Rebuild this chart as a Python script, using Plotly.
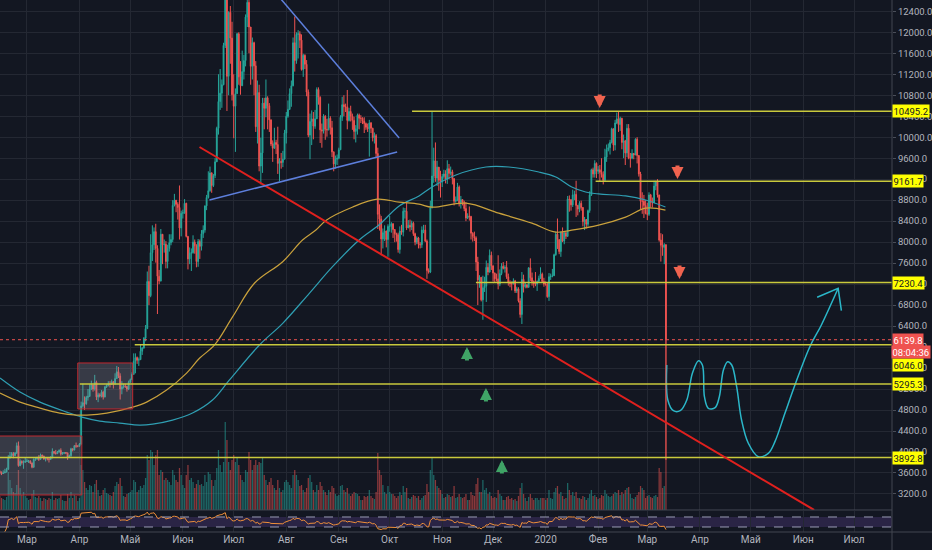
import numpy as np
import pandas as pd
import plotly.graph_objects as go

# ---------------- data (daily candles, 2019-02-13 .. 2020-03-12) ----------------
first_open = 3630
close = [
 # Feb 2019 (13-28)
 3610,3590,3600,3620,3670,3900,3920,3970,3930,3980,4120,3740,3820,3800,3810,3820,
 # Mar
 3830,3830,3790,3710,3860,3870,3880,3860,3940,3920,3870,3880,3870,3860,3890,4010,3980,3970,4000,4030,3960,3980,3990,3980,3900,3930,4060,4040,4120,4110,4110,
 # Apr
 4150,4880,4940,4920,5040,5060,5200,5280,5200,5330,5050,5090,5070,5140,5050,5240,5270,5300,5290,5340,5300,5400,5530,5450,5200,5240,5260,5250,5200,5330,
 # May
 5380,5480,5730,5800,5750,5760,5920,5980,6170,6350,7250,6980,7800,7950,8200,7880,7350,7260,8150,7950,7960,7630,7880,7990,8050,8700,8800,8720,8660,8270,8550,
 # Jun
 8560,8740,8110,7680,7790,7800,8000,7930,7630,8010,7920,8160,8230,8690,8850,8980,9320,9080,9270,9530,10170,10680,10840,11000,11750,12930,11160,12380,11890,10810,
 # Jul
 10590,10830,11970,11150,10980,11250,11460,12290,12570,12100,11350,11800,11360,10200,10850,9450,9700,10650,10550,10750,10600,10330,9870,9790,9900,9860,9500,9540,9520,9580,10080,
 # Aug
 10400,10530,10830,10980,11800,11460,11960,11970,11850,11290,11560,11390,10860,10040,10300,10350,10210,10350,10910,10760,10140,10120,10400,10150,10140,10360,10180,9720,9490,9580,9600,
 # Sep
 9760,10380,10620,10580,10580,10320,10490,10400,10320,10110,10160,10420,10360,10360,10310,10260,10190,10160,10270,10170,9990,10030,9690,8530,8440,8060,8180,8210,8050,8300,
 # Oct
 8300,8350,8240,8160,8140,7860,8210,8190,8590,8590,8270,8320,8290,8360,8160,8000,8080,7960,7950,8230,8230,8020,7460,7430,8660,9260,9550,9220,9430,9180,9150,
 # Nov
 9250,9300,9200,9400,9310,9340,9210,8780,8800,9050,8740,8810,8760,8640,8460,8500,8490,8170,8110,8080,7620,7280,7330,6900,7130,7160,7520,7430,7750,7550,
 # Dec
 7410,7300,7300,7200,7400,7540,7500,7520,7340,7230,7210,7200,7260,7070,7110,6880,6620,7290,7150,7190,7140,7510,7320,7250,7200,7200,7250,7310,7390,7250,7200,
 # Jan 2020
 7200,6960,7340,7350,7360,7760,8150,8050,7820,8190,8020,8180,8110,8820,8810,8710,8900,8910,8700,8630,8740,8660,8390,8430,8340,8600,8900,9380,9300,9500,9350,
 # Feb 2020
 9380,9330,9290,9180,9620,9760,9800,9900,10160,9850,10270,10350,10240,10360,9900,9930,9700,10170,9600,9600,9690,9660,9960,9650,9300,8780,8780,8700,8550,
 # Mar 2020 (1-12)
 8530,8900,8760,8750,9070,9150,8900,8040,7940,7900,7950,6139.8,
]
high = [
 3650,3630,3650,3680,3700,3940,4000,4000,4000,4000,4180,4200,3860,3840,3840,3900,
 3870,3850,3840,3800,3880,3900,3910,3940,3970,3950,3930,3900,3890,3900,3920,4070,4010,4040,4020,4050,4070,4000,4000,4000,3990,3950,4080,4070,4130,4180,4130,
 4170,4960,5300,5060,5070,5200,5290,5360,5280,5470,5360,5130,5120,5180,5170,5260,5290,5350,5350,5380,5350,5500,5640,5620,5500,5350,5300,5300,5260,5360,
 5400,5520,5880,5880,5820,5800,6050,6000,6190,6420,7440,7550,8150,8320,8280,8350,7940,7470,8250,8120,8050,8020,7950,8150,8150,8800,8920,8800,8760,9080,8600,
 8620,8820,8750,8110,7900,7880,8130,8050,7960,8060,8050,8230,8320,8700,8900,9350,9440,9330,9300,9600,10200,11200,11300,11100,11800,13880,13300,12400,12500,12200,
 11200,10930,11990,12000,11450,11650,11570,12340,12800,13200,12100,11900,11820,11450,11080,11000,9990,10750,10750,11100,10780,10650,10340,9940,10180,9950,10200,9600,9700,9740,10140,
 10480,10700,10930,11080,11900,12300,12000,12040,12020,11960,11590,11580,11470,10910,10450,10510,10480,10520,10950,10950,10780,10260,10440,10420,10350,10640,10400,10310,9730,9650,9670,
 9800,10420,10770,10800,10640,10900,10560,10600,10450,10390,10230,10450,10450,10420,10380,10380,10280,10260,10330,10290,10180,10090,10060,9800,8720,8500,8260,8320,8220,8340,
 8500,8380,8360,8230,8180,8180,8300,8330,8660,8650,8780,8420,8430,8410,8390,8180,8110,8100,8000,8300,8330,8330,8050,7500,8790,10500,9800,9900,9550,9430,9360,
 9300,9380,9370,9560,9490,9440,9380,9220,8870,9130,9080,8880,8820,8790,8760,8550,8680,8500,8190,8200,8110,7720,7370,7330,7360,7340,7650,7600,7860,7820,
 7550,7420,7400,7750,7480,7600,7620,7560,7640,7400,7270,7250,7310,7280,7150,7140,6930,7430,7380,7230,7190,7520,7690,7420,7270,7430,7270,7360,7520,7420,7320,
 7250,7220,7410,7400,7490,7780,8200,8450,8050,8200,8280,8190,8190,8880,8890,8790,9000,8980,9170,8710,8780,8790,8670,8480,8440,8620,8970,9400,9420,9560,9520,
 9450,9470,9600,9350,9780,9860,9880,9950,10180,10150,10330,10470,10500,10390,10370,10050,9950,10250,10250,9700,9770,9700,9980,10000,9660,9340,8950,8900,8800,
 8750,8950,8920,8850,9170,9170,9200,8900,8170,8150,7980,7960,
]
low = [
 3575,3560,3580,3600,3610,3660,3870,3900,3880,3920,3960,3720,3730,3760,3680,3790,
 3810,3790,3770,3690,3700,3830,3850,3830,3850,3900,3850,3820,3840,3800,3850,3880,3960,3950,3960,3990,3930,3950,3960,3960,3850,3890,3910,4010,4030,4080,4090,
 4100,4140,4850,4800,4900,4980,5050,5180,5150,5170,4990,4950,5040,5040,5000,5040,5220,5250,5230,5280,5210,5280,5390,5410,5000,5100,5210,5220,5150,5180,
 5320,5370,5470,5500,5680,5640,5760,5850,5970,6110,6350,6800,6950,7640,7850,7610,6630,7200,7250,7580,7800,7500,7500,7820,7940,8000,8680,8570,8430,8050,8110,
 8450,8540,8090,7480,7580,7450,7780,7780,7520,7530,7680,7840,8080,8180,8610,8830,8960,8940,9050,9220,9530,10050,10520,10560,10990,11700,10500,10800,11400,10700,
 9980,9720,10830,11000,10810,10980,11100,11350,12100,11600,11000,11100,10800,10100,9880,9350,9100,9320,10150,10380,10150,10100,9830,9530,9780,9680,9300,9160,9400,9430,9580,
 9880,10370,10520,10580,10970,11250,11400,11500,11700,11270,11150,11300,10780,10000,9580,9850,9960,10160,10350,10620,9890,9800,10070,9950,10010,10130,10050,9620,9350,9400,9470,
 9580,9760,10310,10400,10480,10150,10300,10300,10140,9960,9900,10050,10150,10270,10250,10080,10140,10100,9630,10080,9920,9880,9610,8250,8220,7750,7880,8020,7900,7720,
 8200,8180,8080,8000,8010,7800,7780,8140,8110,8450,8230,8270,8200,8230,8120,7940,7960,7880,7880,7890,8170,8000,7300,7400,7410,8640,9130,9150,9070,8980,8850,
 9050,9210,9120,9110,9200,9270,9100,8700,8750,8780,8680,8640,8700,8590,8400,8440,8410,8050,8010,8020,7450,6800,7130,6870,6520,7050,6860,7370,7420,7470,
 7250,7230,7250,7100,7160,7370,7480,7420,7300,7170,7140,7080,7200,7030,7030,6850,6560,6440,7040,7120,7120,7130,7260,7170,7130,7160,7070,7250,7300,7220,7150,
 7170,6940,6880,7280,7330,7360,7740,7870,7770,7720,8000,7960,8060,8100,8580,8600,8670,8800,8480,8510,8570,8600,8300,8230,8260,8300,8560,8880,9230,9230,9220,
 9300,9160,9230,9100,9160,9530,9730,9670,9880,9740,9750,10250,10100,10120,9770,9600,9470,9620,9580,9420,9580,9580,9660,9500,9250,8620,8540,8460,8530,
 8420,8500,8660,8660,8750,8990,8850,8010,7630,7740,7580,3850,
]
volume = [
 14,12,11,10,13,38,30,22,18,17,25,40,22,15,18,14,
 12,10,11,16,20,13,12,14,12,9,12,11,10,12,11,18,10,12,11,12,15,10,9,9,16,12,18,12,15,14,9,
 12,45,40,28,22,20,25,24,18,26,30,20,14,15,20,22,17,16,15,14,18,24,28,26,32,24,14,13,16,17,
 18,20,30,28,18,20,24,22,25,32,55,50,60,58,45,55,60,35,40,38,30,32,30,28,25,40,35,30,28,42,35,
 25,22,35,45,30,32,28,22,26,30,25,26,24,35,28,38,36,30,24,30,42,60,45,38,48,88,70,48,40,50,
 55,48,52,45,35,30,28,40,38,58,50,40,45,50,45,48,47,52,35,30,25,28,32,25,22,20,30,22,18,20,28,
 30,28,25,22,35,40,35,30,24,25,20,18,22,32,35,28,20,18,25,20,28,24,20,18,15,20,18,24,22,16,14,
 15,24,25,20,18,22,16,14,16,18,17,16,14,10,10,14,13,14,20,14,12,11,18,57,40,35,25,18,16,24,
 18,16,16,14,12,14,18,15,24,18,22,12,11,13,15,14,12,14,10,12,14,15,26,18,40,52,35,30,24,22,20,
 16,12,13,16,15,13,14,24,12,13,16,13,12,13,16,10,10,18,15,14,26,32,18,18,30,20,22,16,18,14,
 12,13,12,20,16,14,10,10,13,14,11,12,10,11,9,14,22,27,16,12,9,13,16,12,10,12,12,10,12,12,12,
 10,12,20,12,11,18,22,24,16,18,14,11,12,27,20,15,18,14,18,12,12,11,14,13,10,12,16,20,14,15,13,
 11,12,15,14,20,16,14,13,14,16,18,17,20,15,18,16,20,22,23,16,12,11,13,15,18,24,22,20,12,
 14,15,13,12,14,15,13,42,38,22,24,170,
]
n = len(close)
assert len(high) == n and len(low) == n and len(volume) == n, (n, len(high), len(low), len(volume))

# moving averages (day offset from 2019-03-01, price)
sma_day = [-15.9,-4.1,7.7,23.5,32.4,43.0,54.7,66.5,74.2,85.9,97.7,109.5,119.5,137.2,150.9,166.6,180.3,196.0,207.8,219.6,231.3,239.0,253.1,270.8,284.3,302.0,312.0,321.4,329.6,337.3,353.2,365.0,376.7]
sma_val = [5409,5142,4951,4761,4666,4590,4551,4513,4532,4609,4742,4990,5373,6040,6453,7025,7532,8041,8330,8690,8880,9051,9280,9432,9432,9337,9242,9051,8956,8918,8880,8803,8670]
ema_day = [-15.9,-4.1,7.7,19.4,29.4,35.3,47.1,62.4,70.6,82.4,94.2,101.8,110.7,121.4,134.2,150.9,162.6,170.5,176.6,191.9,206.6,219.6,231.3,239.0,259.0,278.4,297.9,312.0,321.4,337.3,353.2,365.0,376.7]
ema_val = [5123,4951,4837,4742,4704,4704,4742,4856,4951,5180,5504,5786,6040,6579,7216,7627,8041,8232,8419,8666,8819,8762,8724,8666,8742,8552,8361,8190,8228,8323,8476,8647,8609]

# drawings (day offset from 2019-03-01, price)
level_price = [10495.2, 9161.7, 7230.4, 6046.0, 5295.3, 3892.8]
level_start = [227.2, 335.5, 264.9, 63.6, 31.2, -20]
level_label_shift = [0, 0, 0, -20, 0, 0]
last_price = 6139.8
countdown = "08:04:36"

red_trend = ([101.8, 464.4], [9813, 2895])
blue_upper = ([117.0, 219.6], [13880, 9985])
blue_lower = ([107.7, 218.4], [8803, 9718])
boxes = [([-20, 32.4], [3181, 4305]), ([30.0, 62.4], [4820, 5697])]

down_arrow_day = [337.9, 383.8, 385.0]
down_arrow_price = [10557, 9204, 7298]
up_arrow_day = [259.6, 270.8, 280.2]
up_arrow_price = [6001, 5220, 3847]

sketch_day = [377.5,378.1,381.4,385.4,389.3,392.6,396.2,398.5,399.7,402.0,406.0,408.5,410.9,413.4,415.8,418.7,421.6,425.6,431.5,437.4,441.3,447.2,453.1,461.9,468.7,478.6]
sketch_price = [5658,4991,4787,4787,4991,5500,5740,5658,5054,4833,4845,5054,5563,5721,5658,5245,4610,4166,3911,3975,4197,4738,5277,6007,6421,7120]
sketch_head_day = [466.2, 478.6, 480.5]
sketch_head_price = [6949, 7120, 6693]

month_ticks = pd.date_range("2019-03-01", "2020-07-01", freq="MS")
month_labels = ["Мар","Апр","Май","Июн","Июл","Авг","Сен","Окт","Ноя","Дек","2020","Фев","Мар","Апр","Май","Июн","Июл"]

# ---------------- build ----------------
base = pd.Timestamp("2019-03-01")
def to_dt(days):
    return [base + pd.to_timedelta(d, unit="D") for d in days]

dates = pd.date_range("2019-02-13", periods=n, freq="D")
opn = [first_open] + close[:-1]
up = [c >= o for c, o in zip(close, opn)]

s = pd.Series(close, dtype=float)
d = s.diff()
gain = d.clip(lower=0).ewm(alpha=1/14, adjust=False).mean()
loss = (-d.clip(upper=0)).ewm(alpha=1/14, adjust=False).mean()
rsi = 100 - 100 / (1 + gain / loss)

BG = "#131722"
GRID = "#242833"
TXT = "#b2b5be"
UPC = "#26a69a"
DNC = "#ef5350"
YEL = "#c9c93c"
FONT = "Roboto"

fig = go.Figure()

fig.add_trace(go.Bar(
    x=dates, y=volume, xaxis="x", yaxis="y2",
    marker=dict(color=["rgba(38,166,154,0.55)" if u else "rgba(239,83,80,0.55)" for u in up], line_width=0),
    hoverinfo="skip"))

fig.add_trace(go.Scatter(x=to_dt(sma_day), y=sma_val, mode="lines", xaxis="x", yaxis="y",
                         line=dict(color="#2f9fb3", width=1.2, shape="spline"), hoverinfo="skip"))
fig.add_trace(go.Scatter(x=to_dt(ema_day), y=ema_val, mode="lines", xaxis="x", yaxis="y",
                         line=dict(color="#c9a13c", width=1.2, shape="spline"), hoverinfo="skip"))

fig.add_trace(go.Candlestick(
    x=dates, open=opn, high=high, low=low, close=close, xaxis="x", yaxis="y",
    increasing=dict(line=dict(color=UPC, width=1), fillcolor=UPC),
    decreasing=dict(line=dict(color=DNC, width=1), fillcolor=DNC),
    whiskerwidth=0, hoverinfo="skip"))

fig.add_trace(go.Scatter(x=to_dt(sketch_day), y=sketch_price, mode="lines", xaxis="x", yaxis="y",
                         line=dict(color="#2bb7c9", width=1.5, shape="spline", smoothing=1.0), hoverinfo="skip"))
fig.add_trace(go.Scatter(x=to_dt(sketch_head_day), y=sketch_head_price, mode="lines", xaxis="x", yaxis="y",
                         line=dict(color="#2bb7c9", width=1.5), hoverinfo="skip"))

fig.add_trace(go.Scatter(x=dates, y=rsi, mode="lines", xaxis="x2", yaxis="y3",
                         line=dict(color="#f0903a", width=1), hoverinfo="skip"))

shapes = []
x_end = pd.Timestamp("2020-07-30")
for (bx, by) in boxes:
    bx_dt = to_dt(bx)
    shapes.append(dict(type="rect", xref="x", yref="y", x0=bx_dt[0], x1=bx_dt[1], y0=by[0], y1=by[1],
                       line=dict(color="#c0282f", width=1), fillcolor="rgba(150,152,165,0.28)", layer="above"))
for p, st in zip(level_price, level_start):
    shapes.append(dict(type="line", xref="x", yref="y", x0=to_dt([st])[0], x1=x_end, y0=p, y1=p,
                       line=dict(color=YEL, width=1.5)))
shapes.append(dict(type="line", xref="paper", yref="y", x0=0, x1=1, y0=last_price, y1=last_price,
                   line=dict(color=DNC, width=1, dash="dot")))
for (lx, ly), col, w in [(red_trend, "#e0201e", 2), (blue_upper, "#5d7fdc", 1.5), (blue_lower, "#5d7fdc", 1.5)]:
    lxd = to_dt(lx)
    shapes.append(dict(type="line", xref="x", yref="y", x0=lxd[0], x1=lxd[1], y0=ly[0], y1=ly[1],
                       line=dict(color=col, width=w)))
# RSI band
shapes.append(dict(type="rect", xref="paper", yref="y3", x0=0, x1=1, y0=30, y1=70,
                   fillcolor="rgba(126,87,194,0.22)", line_width=0, layer="below"))
for lv in (30, 70):
    shapes.append(dict(type="line", xref="paper", yref="y3", x0=0, x1=1, y0=lv, y1=lv,
                       line=dict(color="#9a9cb5", width=1, dash="dash")))
# pane separators / axis lines
pane_top = 0.0414
shapes.append(dict(type="line", xref="paper", yref="paper", x0=0, x1=1, y0=pane_top, y1=pane_top,
                   line=dict(color="#434651", width=1)))
shapes.append(dict(type="line", xref="paper", yref="paper", x0=0, x1=1.05, y0=0, y1=0,
                   line=dict(color="#434651", width=1)))
shapes.append(dict(type="line", xref="paper", yref="paper", x0=1, x1=1, y0=-0.04, y1=1,
                   line=dict(color="#434651", width=1)))

annotations = []
for p, sh in zip(level_price, level_label_shift):
    annotations.append(dict(xref="paper", yref="y", x=1, y=p, xanchor="left", yanchor="middle", yshift=sh,
                            text=f"{p:.1f}", showarrow=False, bgcolor="#ffff00", borderpad=0.5,
                            font=dict(family=FONT, size=9.5, color="#131722")))
annotations.append(dict(xref="paper", yref="y", x=1, y=last_price, xanchor="left", yanchor="middle",
                        text=f"{last_price:.1f}", showarrow=False, bgcolor=DNC, borderpad=0.5,
                        font=dict(family=FONT, size=9.5, color="#ffffff")))
annotations.append(dict(xref="paper", yref="y", x=1, y=last_price, xanchor="left", yanchor="middle", yshift=-12,
                        xshift=-1, text=countdown, showarrow=False, bgcolor=DNC, borderpad=0.5,
                        font=dict(family=FONT, size=9.5, color="#ffffff")))
for dd, pp in zip(down_arrow_day, down_arrow_price):
    annotations.append(dict(xref="x", yref="y", x=to_dt([dd])[0], y=pp, ax=0, ay=-15, text="",
                            showarrow=True, arrowhead=2, arrowsize=0.6, arrowwidth=4, arrowcolor="#f0634f",
                            standoff=0))
for dd, pp in zip(up_arrow_day, up_arrow_price):
    annotations.append(dict(xref="x", yref="y", x=to_dt([dd])[0], y=pp, ax=0, ay=15, text="",
                            showarrow=True, arrowhead=2, arrowsize=0.6, arrowwidth=4, arrowcolor="#3fa366",
                            standoff=0))

x_range = [pd.Timestamp("2019-02-13 02:40"), pd.Timestamp("2020-07-23 08:40")]

fig.update_layout(
    width=932, height=550,
    margin=dict(l=0, r=38, t=0, b=18),
    paper_bgcolor=BG, plot_bgcolor=BG,
    showlegend=False, bargap=0.25,
    font=dict(family=FONT, size=10, color=TXT),
    xaxis=dict(domain=[0, 1], anchor="y", range=x_range, tickvals=month_ticks, showticklabels=False,
               showgrid=True, gridcolor=GRID, zeroline=False, rangeslider=dict(visible=False),
               ticks="", fixedrange=True),
    xaxis2=dict(domain=[0, 1], anchor="y3", matches="x", range=x_range, tickvals=month_ticks,
                ticktext=month_labels, showgrid=True, gridcolor=GRID, zeroline=False, ticks="",
                tickfont=dict(family=FONT, size=10, color=TXT), fixedrange=True),
    yaxis=dict(domain=[pane_top, 1], anchor="x", side="right", range=[2895, 12615], tick0=0, dtick=400,
               tickformat=".1f", showgrid=True, gridcolor=GRID, zeroline=False, ticks="outside",
               ticklen=3, tickcolor="#4a4e59", tickfont=dict(family=FONT, size=9.5, color=TXT),
               fixedrange=True),
    yaxis2=dict(overlaying="y", anchor="x", range=[0, 510], visible=False, fixedrange=True),
    yaxis3=dict(domain=[0, 0.0395], anchor="x2", range=[10, 94], visible=False, fixedrange=True),
    shapes=shapes, annotations=annotations,
)

fig.write_html("out.html", config={"displayModeBar": False},
               post_script="document.body.style.margin='0';document.body.style.overflow='hidden';")
